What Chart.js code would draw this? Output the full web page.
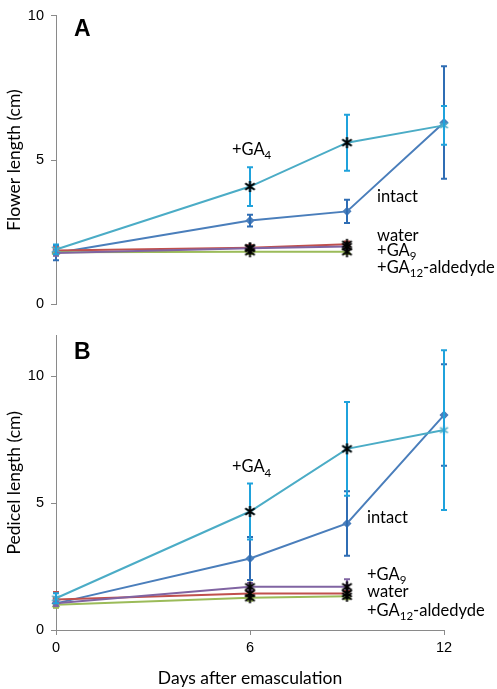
<!DOCTYPE html>
<html lang="en">
<head>
<meta charset="UTF-8">
<title>Flower and pedicel length after emasculation</title>
<script src="https://cdn.jsdelivr.net/npm/chart.js@4"></script>
<style>
  body { margin: 0; width: 497px; height: 689px; background: #fff; position: relative; overflow: hidden; }
  canvas { position: absolute; left: 0; }
  #chartA { top: 0; }
  #chartB { top: 320px; }
</style>
</head>
<body>
<canvas id="chartA" width="497" height="320"></canvas>
<canvas id="chartB" width="497" height="369"></canvas>
<script>
// days after emasculation (x values) and axis ticks
const days = [0, 6, 9, 12];
const xTicks = [0, 6, 12];
const yTicks = [0, 5, 10];
const starDays = [6, 9]; // days marked with black asterisks

// A - flower length (cm)
const flowerIntact = [1.78, 2.9, 3.22, 6.3];
const flowerIntactErr = [0.25, 0.2, 0.4, 1.95];
const flowerGA4 = [1.9, 4.08, 5.6, 6.2];
const flowerGA4Err = [0.17, 0.67, 0.97, 0.67];
const flowerWater = [1.86, 1.96, 2.08];
const flowerWaterErr = [0.12, 0.08, 0.1];
const flowerGA9 = [1.78, 1.94, 2.0];
const flowerGA9Err = [0.1, 0.08, 0.1];
const flowerGA12 = [1.8, 1.82, 1.82];
const flowerGA12Err = [0.1, 0.08, 0.08];

// B - pedicel length (cm)
const pedicelIntact = [1.05, 2.82, 4.2, 8.47];
const pedicelIntactErr = [0.12, 0.85, 1.27, 2.0];
const pedicelGA4 = [1.25, 4.67, 7.14, 7.88];
const pedicelGA4Err = [0.2, 1.1, 1.85, 3.15];
const pedicelWater = [1.2, 1.44, 1.44];
const pedicelWaterErr = [0.3, 0.1, 0.1];
const pedicelGA9 = [1.05, 1.7, 1.7];
const pedicelGA9Err = [0.1, 0.15, 0.3];
const pedicelGA12 = [1.0, 1.27, 1.33];
const pedicelGA12Err = [0.12, 0.12, 0.12];

const FONTE = 'Lato, "Open Sans", sans-serif';
const FONTE_NUM = '"Liberation Sans", Arial, sans-serif';
const COR_EIXO = '#8a8a8a';

// cores no estilo do Excel
const cores = {
  intact: { line: '#4a7ebb', err: '#2f6db4' },
  ga4: { line: '#4bacc6', err: '#1fa2dc' },
  water: { line: '#c0504d', err: '#c0504d' },
  ga9: { line: '#8064a2', err: '#8064a2' },
  ga12: { line: '#9bbb59', err: '#9bbb59' }
};

// marcador asterisco (vertical + X), como o "star" do Excel
function marcadorAsterisco(cor, tam, espessura) {
  const c = document.createElement('canvas');
  c.width = tam; c.height = tam;
  const g = c.getContext('2d');
  const m = tam / 2, r = tam / 2 - 1;
  g.strokeStyle = cor;
  g.lineWidth = espessura;
  g.lineCap = 'butt';
  g.beginPath();
  g.moveTo(m, m - r); g.lineTo(m, m + r);
  g.moveTo(m - r * 0.87, m - r * 0.6); g.lineTo(m + r * 0.87, m + r * 0.6);
  g.moveTo(m - r * 0.87, m + r * 0.6); g.lineTo(m + r * 0.87, m - r * 0.6);
  g.stroke();
  return c;
}

const asteriscoPreto = marcadorAsterisco('#000', 13, 2);
const asteriscoCiano = marcadorAsterisco('#4bacc6', 11, 1.5);

function serie(valores, erros, cor, marcador, ordem) {
  return {
    data: valores.map((v, i) => ({ x: days[i], y: v })),
    errors: erros,
    errorColor: cor.err,
    borderColor: cor.line,
    backgroundColor: cor.line,
    borderWidth: 2,
    pointStyle: marcador,
    pointRadius: 3.5,
    pointBorderWidth: 1.5,
    showLine: true,
    clip: false,
    order: ordem
  };
}

// asteriscos pretos nos dias 6 e 9
function asteriscos(valores) {
  return {
    data: starDays.map(d => ({ x: d, y: valores[days.indexOf(d)] })),
    showLine: false,
    pointStyle: asteriscoPreto,
    pointRadius: 6,
    clip: false,
    order: 0
  };
}

// barras de erro desenhadas com as escalas do gráfico
const barrasErro = {
  id: 'barrasErro',
  afterDatasetDraw(chart, args) {
    const ds = chart.data.datasets[args.index];
    if (!ds.errors) return;
    const ctx = chart.ctx;
    const sx = chart.scales.x, sy = chart.scales.y;
    ctx.save();
    ctx.strokeStyle = ds.errorColor;
    ctx.lineWidth = 2;
    ds.data.forEach((p, i) => {
      const e = ds.errors[i];
      const px = sx.getPixelForValue(p.x);
      const topo = sy.getPixelForValue(p.y + e);
      const base = sy.getPixelForValue(p.y - e);
      ctx.beginPath();
      ctx.moveTo(px, topo); ctx.lineTo(px, base);
      ctx.moveTo(px - 3, topo); ctx.lineTo(px + 3, topo);
      ctx.moveTo(px - 3, base); ctx.lineTo(px + 3, base);
      ctx.stroke();
    });
    ctx.restore();
  }
};

// textos das séries e letra do painel
const textos = {
  id: 'textos',
  afterDraw(chart, args, opts) {
    const ctx = chart.ctx;
    const sx = chart.scales.x, sy = chart.scales.y;
    ctx.save();
    ctx.fillStyle = '#000';
    ctx.textBaseline = 'middle';
    ctx.textAlign = 'left';
    opts.rotulos.forEach(r => {
      let x = sx.getPixelForValue(r.day);
      const y = sy.getPixelForValue(r.val);
      r.parts.forEach(([t, tipo]) => {
        if (tipo === 'sub') {
          ctx.font = '11.5px ' + FONTE;
          ctx.fillText(t, x, y + 6);
        } else {
          ctx.font = '16.5px ' + FONTE;
          ctx.fillText(t, x, y);
        }
        x += ctx.measureText(t).width;
      });
    });
    ctx.font = 'bold 23px ' + FONTE_NUM;
    ctx.textBaseline = 'middle';
    ctx.fillText(opts.letra, chart.chartArea.left + 18, chart.chartArea.top + opts.letraY);
    ctx.restore();
  }
};

function escalaY(max, titulo) {
  return {
    type: 'linear',
    min: 0,
    max: max,
    afterBuildTicks: s => { s.ticks = yTicks.map(v => ({ value: v })); },
    afterFit: s => { s.width = 56; },
    grid: { drawOnChartArea: false, drawTicks: true, tickLength: 5, color: COR_EIXO },
    border: { color: COR_EIXO, width: 1 },
    ticks: { color: '#000', padding: 7, font: { family: FONTE_NUM, size: 14.5 } },
    title: { display: true, text: titulo, color: '#000', padding: { top: 4, bottom: 0 }, font: { family: FONTE, size: 17.5 } }
  };
}

function criarGrafico(id, series, mostrarX, maxY, tituloY, rotulos, letra, letraY, padding) {
  const datasets = [
    serie(series.intact, series.intactErr, cores.intact, 'rectRot', 5),
    serie(series.water, series.waterErr, cores.water, 'rect', 4),
    serie(series.ga12, series.ga12Err, cores.ga12, 'triangle', 3),
    serie(series.ga9, series.ga9Err, cores.ga9, 'crossRot', 2),
    serie(series.ga4, series.ga4Err, cores.ga4, asteriscoCiano, 1),
    asteriscos(series.ga4),
    asteriscos(series.water),
    asteriscos(series.ga9),
    asteriscos(series.ga12)
  ];
  return new Chart(document.getElementById(id), {
    type: 'scatter',
    data: { datasets: datasets },
    options: {
      responsive: false,
      animation: false,
      layout: { padding: padding },
      plugins: { legend: { display: false }, tooltip: { enabled: false }, textos: { rotulos: rotulos, letra: letra, letraY: letraY } },
      scales: {
        x: {
          type: 'linear',
          min: 0,
          max: 12,
          display: mostrarX,
          afterBuildTicks: s => { s.ticks = xTicks.map(v => ({ value: v })); },
          afterFit: s => { if (mostrarX) s.height = 59; },
          grid: { drawOnChartArea: false, drawTicks: true, tickLength: 5, color: COR_EIXO },
          border: { color: COR_EIXO, width: 1 },
          ticks: { color: '#000', padding: 4, font: { family: FONTE_NUM, size: 14.5 } },
          title: { display: true, text: 'Days after emasculation', color: '#000', padding: { top: 0, bottom: 0 }, font: { family: FONTE, size: 17.5 } }
        },
        y: escalaY(maxY, tituloY)
      }
    },
    plugins: [barrasErro, textos]
  });
}

const rotulosA = [
  { parts: [['+GA'], ['4', 'sub']], day: 5.44, val: 5.36 },
  { parts: [['intact']], day: 9.93, val: 3.73 },
  { parts: [['water']], day: 9.93, val: 2.39 },
  { parts: [['+GA'], ['9', 'sub']], day: 9.93, val: 1.86 },
  { parts: [['+GA'], ['12', 'sub'], ['-aldedyde']], day: 9.93, val: 1.27 }
];

const rotulosB = [
  { parts: [['+GA'], ['4', 'sub']], day: 5.44, val: 6.43 },
  { parts: [['intact']], day: 9.62, val: 4.43 },
  { parts: [['+GA'], ['9', 'sub']], day: 9.62, val: 2.2 },
  { parts: [['water']], day: 9.62, val: 1.53 },
  { parts: [['+GA'], ['12', 'sub'], ['-aldedyde']], day: 9.62, val: 0.78 }
];

criarGrafico('chartA', {
  intact: flowerIntact, intactErr: flowerIntactErr,
  ga4: flowerGA4, ga4Err: flowerGA4Err,
  water: flowerWater, waterErr: flowerWaterErr,
  ga9: flowerGA9, ga9Err: flowerGA9Err,
  ga12: flowerGA12, ga12Err: flowerGA12Err
}, false, 10, 'Flower length (cm)', rotulosA, 'A', 14, { top: 6, bottom: 8, left: 0, right: 53 });

criarGrafico('chartB', {
  intact: pedicelIntact, intactErr: pedicelIntactErr,
  ga4: pedicelGA4, ga4Err: pedicelGA4Err,
  water: pedicelWater, waterErr: pedicelWaterErr,
  ga9: pedicelGA9, ga9Err: pedicelGA9Err,
  ga12: pedicelGA12, ga12Err: pedicelGA12Err
}, true, 11.6, 'Pedicel length (cm)', rotulosB, 'B', 17, { top: 13, bottom: 0, left: 0, right: 53 });
</script>
</body>
</html>
